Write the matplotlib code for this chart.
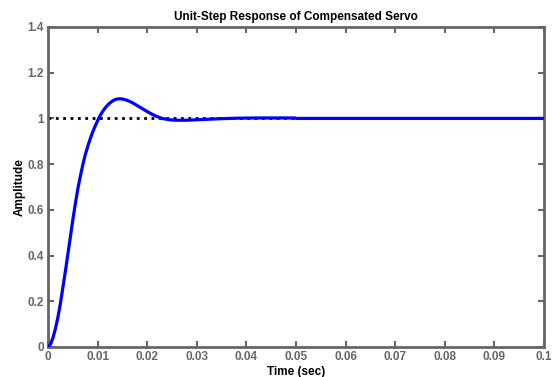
import matplotlib
matplotlib.use('Agg')
import matplotlib.pyplot as plt

plt.rcParams['font.family'] = ['Liberation Sans', 'DejaVu Sans']

# step response
t = [0, 0.0005, 0.001, 0.0015, 0.002, 0.0025, 0.003, 0.0035, 0.004, 0.0045,
     0.005, 0.0055, 0.006, 0.0065, 0.007, 0.0075, 0.008, 0.0085, 0.009, 0.0095,
     0.010, 0.0105, 0.011, 0.0115, 0.012, 0.0125, 0.013, 0.0135, 0.014, 0.0145,
     0.015, 0.016, 0.017, 0.018, 0.019, 0.020, 0.021, 0.022, 0.023, 0.024,
     0.025, 0.0265, 0.028, 0.030, 0.032, 0.035, 0.038, 0.042, 0.046, 0.0498,
     0.050, 0.1]
amp = [0, 0.012, 0.04, 0.08, 0.13, 0.19, 0.26, 0.33, 0.405, 0.48,
       0.555, 0.625, 0.69, 0.745, 0.795, 0.84, 0.877, 0.91, 0.94, 0.966,
       0.99, 1.012, 1.03, 1.045, 1.058, 1.068, 1.076, 1.082, 1.085, 1.086,
       1.085, 1.079, 1.069, 1.056, 1.043, 1.030, 1.018, 1.008, 1.0, 0.996,
       0.993, 0.992, 0.992, 0.994, 0.996, 0.999, 1.001, 1.002, 1.002, 1.002,
       1.0, 1.0]

ref_t = [0, 0.1]
ref_y = [1, 1]

xticks = [0, 0.01, 0.02, 0.03, 0.04, 0.05, 0.06, 0.07, 0.08, 0.09, 0.1]
xlabels = ['0', '0.01', '0.02', '0.03', '0.04', '0.05', '0.06', '0.07', '0.08', '0.09', '0.1']
yticks = [0, 0.2, 0.4, 0.6, 0.8, 1, 1.2, 1.4]
ylabels = ['0', '0.2', '0.4', '0.6', '0.8', '1', '1.2', '1.4']

gray = '#666666'

fig = plt.figure(figsize=(5.58, 3.77), dpi=100)
ax = fig.add_axes([0.086, 0.0796, 0.889, 0.8488])

ax.plot(ref_t, ref_y, color='black', linestyle=':', linewidth=2, zorder=2)
ax.plot(t, amp, color='blue', linewidth=2.3, zorder=3)

ax.set_xlim(0, 0.1)
ax.set_ylim(0, 1.4)
ax.set_xticks(xticks)
ax.set_xticklabels(xlabels)
ax.set_yticks(yticks)
ax.set_yticklabels(ylabels)

for s in ax.spines.values():
    s.set_color(gray)
    s.set_linewidth(2)
ax.tick_params(direction='in', length=4, width=1.5, color=gray, labelcolor=gray,
               labelsize=8.5, top=True, right=True, pad=3)
for lbl in ax.get_xticklabels() + ax.get_yticklabels():
    lbl.set_fontweight('bold')

ax.set_title('Unit-Step Response of Compensated Servo', fontsize=8.5,
             fontweight='bold', pad=5)
ax.set_xlabel('Time (sec)', fontsize=8.5, fontweight='bold', labelpad=2)
ax.set_ylabel('Amplitude', fontsize=8.5, fontweight='bold', labelpad=1)

fig.savefig('out.png', dpi=100)
